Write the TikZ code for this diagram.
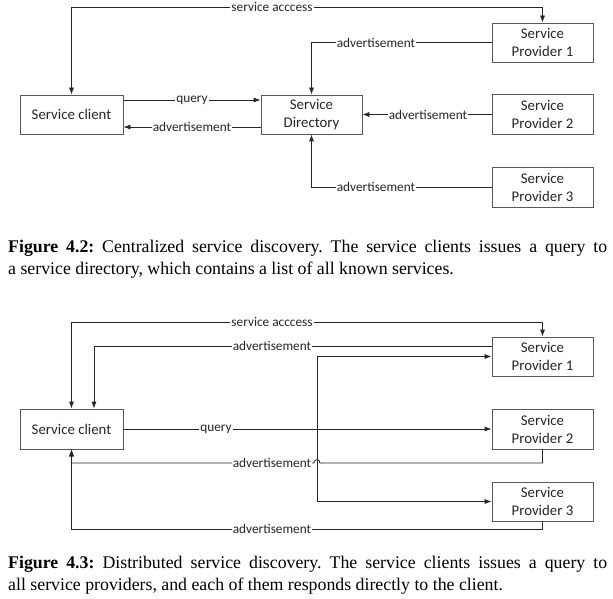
\documentclass[tikz,border=0pt]{standalone}
\usepackage{fontspec}
\setmainfont{Liberation Serif}
\setsansfont{Carlito}
\usetikzlibrary{arrows.meta}
\frenchspacing
\tikzset{
  box/.style={draw=black!65, line width=0.8pt, minimum width=101pt, minimum height=39pt, inner sep=0pt, align=center, font=\sffamily\fontsize{14.8}{18}\selectfont, text=black!85},
  conn/.style={draw=black!85, line width=0.8pt},
  arr/.style={conn, -{Latex[length=7pt,width=5pt]}},
  barr/.style={conn, {Latex[length=7pt,width=5pt]}-{Latex[length=7pt,width=5pt]}},
  lab/.style={fill=white, inner xsep=1pt, inner ysep=1pt, font=\sffamily\fontsize{13.3}{15}\selectfont, text=black!85},
  captxt/.style={anchor=base west, inner sep=0pt, font=\fontsize{17.8}{21}\selectfont}
}
\begin{document}
\begin{tikzpicture}[x=1pt,y=-1pt]
\useasboundingbox[fill=white] (0,0) rectangle (613,599);
% ---------- Figure 4.2 ----------
\node[box, minimum width=103pt] (c1) at (71.5,114.5) {Service client};
\node[box] (d1) at (311.5,114.5) {Service\\Directory};
\node[box] (a1) at (542.5,42.5) {Service\\Provider 1};
\node[box, minimum height=40pt] (a2) at (542.5,114.5) {Service\\Provider 2};
\node[box, minimum height=40pt] (a3) at (542.5,187) {Service\\Provider 3};
\coordinate (t1) at (0,7);
\draw[barr] (c1.north) -- (c1.north |- t1) -- (a1.north |- t1) -- (a1.north);
\coordinate (qy) at (0,100);
\coordinate (ay) at (0,127);
\draw[arr] (c1.east |- qy) -- (d1.west |- qy);
\draw[arr] (d1.west |- ay) -- (c1.east |- ay);
\draw[arr] (a1.west) -| (d1.north);
\draw[arr] (a2.west) -- (d1.east |- a2.west);
\draw[arr] (a3.west) -| (d1.south);
\node[lab] (l1) at (272,7) {service acccess};
\node[lab] (l2) at (192,100) {query};
\node[lab] (l3) at (192,127) {advertisement};
\node[lab] (l4) at (376,42.5) {advertisement};
\node[lab] (l5) at (428,114.5) {advertisement};
\node[lab] (l6) at (376,187) {advertisement};
% ---------- caption 4.2 ----------
\node[captxt] (cap1a) at (8,252) {\makebox[599pt][s]{\textbf{Figure 4.2:} Centralized service discovery. The service clients issues a query to}};
\node[captxt] (cap1b) at (8,274) {a service directory, which contains a list of all known services.};
% ---------- Figure 4.3 ----------
\node[box, minimum width=103pt, minimum height=40pt] (c2) at (71.5,429) {Service client};
\node[box] (b1) at (542.5,356.5) {Service\\Provider 1};
\node[box, minimum height=40pt] (b2) at (542.5,429) {Service\\Provider 2};
\node[box] (b3) at (542.5,501.5) {Service\\Provider 3};
\coordinate (t2) at (0,322);
\draw[barr] (c2.north) -- (c2.north |- t2) -- (b1.north |- t2) -- (b1.north);
\coordinate (av1) at (94,346);
\draw[arr] (b1.west |- av1) -- (av1) -- (av1 |- c2.north);
\draw[arr] (c2.east) -- (b2.west);
\coordinate (jn) at (317,429);
\draw[arr] (jn) |- (b1.west);
\draw[arr] (jn) |- (b3.west);
\coordinate (r2) at (0,463);
\coordinate (r3) at (0,529);
\draw[arr] (b2.south) -- (b2.south |- r2) -- (320,463) .. controls (320,458.5) and (314,458.5) .. (314,463) -- (c2.south |- r2) -- (c2.south);
\draw[arr] (b3.south) -- (b3.south |- r3) -- (c2.south |- r3) -- (c2.south);
\node[lab] (m1) at (272,322) {service acccess};
\node[lab] (m2) at (272,346) {advertisement};
\node[lab] (m3) at (216,429) {query};
\node[lab] (m4) at (272,463) {advertisement};
\node[lab] (m5) at (272,529) {advertisement};
% ---------- caption 4.3 ----------
\node[captxt] (cap2a) at (8,568) {\makebox[599pt][s]{\textbf{Figure 4.3:} Distributed service discovery. The service clients issues a query to}};
\node[captxt] (cap2b) at (8,590) {all service providers, and each of them responds directly to the client.};
\end{tikzpicture}
\end{document}
